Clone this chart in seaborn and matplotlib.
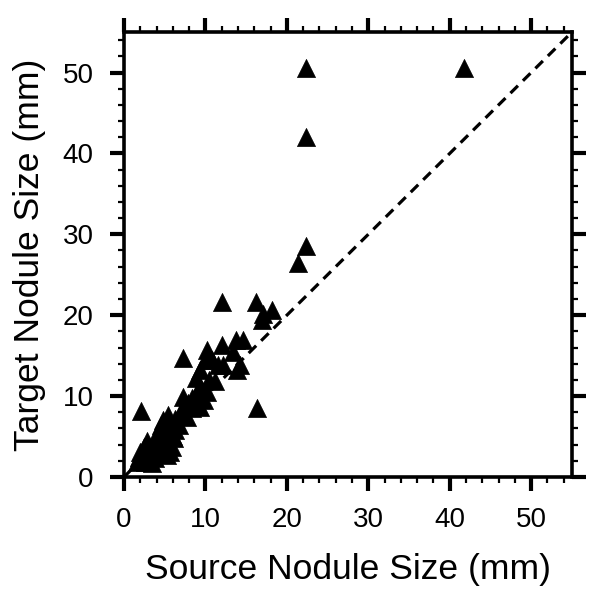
import numpy as np
import pandas as pd
import matplotlib
matplotlib.use("Agg")
import matplotlib.pyplot as plt
import seaborn as sns
from matplotlib.ticker import MultipleLocator

# Nodule sizes (mm)
source_size = [22.4, 41.8, 22.4, 22.4, 21.4, 12.0, 16.2, 17.1, 18.2, 16.9,
               13.7, 14.6, 12.0, 10.2, 13.4, 7.3, 10.0, 11.6, 12.2, 14.3,
               13.9, 9.3, 8.9, 10.4, 11.2, 9.3, 10.2, 7.3, 8.3, 9.8,
               9.3, 16.3, 2.1, 8.3, 6.9, 7.7, 5.4, 4.8, 6.3, 4.6,
               5.7, 6.7, 4.2, 5.3, 6.3, 4.0, 4.8, 6.1, 2.8, 4.0,
               5.3, 5.9, 2.4, 3.6, 2.0, 3.0, 4.4, 5.7, 1.8, 2.8,
               3.8, 5.3, 1.6, 2.6, 3.4, 7.9, 8.7, 10.8, 9.0, 7.0,
               5.0, 3.2, 4.5, 6.0, 2.2]
target_size = [50.6, 50.6, 42.0, 28.6, 26.4, 21.6, 21.6, 20.2, 20.6, 19.4,
               16.9, 16.9, 16.3, 15.7, 15.5, 14.7, 14.4, 13.8, 13.8, 13.8,
               13.2, 13.2, 12.2, 12.0, 11.8, 11.1, 10.5, 9.9, 9.7, 9.5,
               8.7, 8.5, 8.1, 8.5, 7.9, 7.4, 7.7, 7.0, 7.2, 6.4,
               6.6, 6.4, 5.6, 5.8, 5.8, 4.8, 5.0, 4.8, 4.4, 4.2,
               4.0, 3.7, 3.7, 3.5, 3.1, 2.9, 3.1, 3.1, 2.5, 2.3,
               2.3, 2.7, 1.9, 1.9, 1.7, 9.1, 8.9, 14.4, 10.5, 8.0,
               6.0, 3.0, 4.5, 5.0, 2.6]
axis_limits = [0, 55]
tick_values = [0, 10, 20, 30, 40, 50]

df = pd.DataFrame({"source": source_size, "target": target_size})

sns.set_style("white")
plt.rcParams["font.family"] = ["Liberation Sans", "DejaVu Sans"]
plt.rcParams["text.color"] = "black"
plt.rcParams["axes.labelcolor"] = "black"

fig = plt.figure(figsize=(6.02, 6.06), dpi=100)
ax = fig.add_axes([0.206, 0.213, 0.744, 0.734])

sns.scatterplot(data=df, x="source", y="target", marker="^", s=170,
                color="black", edgecolor="black", linewidth=0.5, ax=ax, zorder=3)
ax.plot(axis_limits, axis_limits, color="black", linestyle=(0, (3.3, 2.2)),
        linewidth=2.3, zorder=2)

ax.set_xlim(axis_limits)
ax.set_ylim(axis_limits)
ax.set_xticks(tick_values)
ax.set_yticks(tick_values)
ax.xaxis.set_minor_locator(MultipleLocator(2))
ax.yaxis.set_minor_locator(MultipleLocator(2))

for spine in ax.spines.values():
    spine.set_visible(True)
    spine.set_color("black")
    spine.set_linewidth(2.6)

ax.tick_params(which="major", direction="out", length=10, width=3,
               labelsize=20, pad=12, colors="black",
               top=True, right=True, bottom=True, left=True)
ax.tick_params(which="minor", direction="out", length=4, width=1.6,
               colors="black", top=True, right=True, bottom=True, left=True)
ax.tick_params(labeltop=False, labelright=False)

ax.set_xlabel("Source Nodule Size (mm)", fontsize=25.5, labelpad=14)
ax.set_ylabel("Target Nodule Size (mm)", fontsize=25.5, labelpad=12)

fig.savefig("out.png", dpi=100, facecolor="white")
